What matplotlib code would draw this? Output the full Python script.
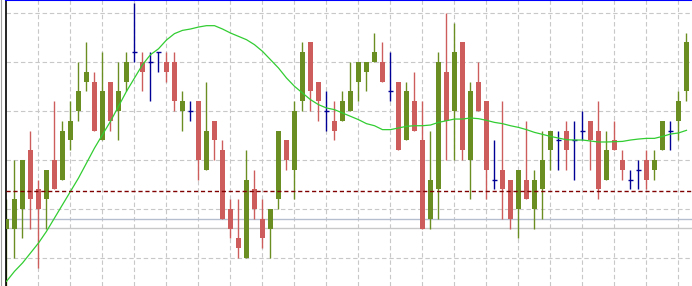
import numpy as np
import matplotlib
matplotlib.use("Agg")
import matplotlib.pyplot as plt

# candle values in chart price units (grid every 5 units)
opens = [3, 3, 5, 11, 7, 6, 10, 8, 12, 15, 18, 18, 12, 18, 15, 18, 21, 20, 20, 21,
         20, 20, 15, 15, 16, 9, 14, 11, 5, 2, 0, 7, 4, 3, 6, 12, 9, 16, 22, 18,
         15, 14, 14, 15, 18, 19, 20, 20, 17, 18, 12, 16, 12, 4, 7, 19, 15, 22, 10, 18,
         16, 8, 9, 8, 5, 8, 5, 7, 11, 12, 13, 12, 13, 14, 13, 8, 12, 10, 8, 9,
         10, 9, 11, 13, 14, 17]
closes = [4, 6, 10, 6, 5, 9, 7, 13, 14, 17, 19, 13, 17, 14, 17, 20, 21, 19, 20, 21,
          19, 16, 16, 15, 10, 13, 12, 4, 3, 1, 8, 5, 2, 5, 13, 10, 15, 21, 17, 16,
          15, 13, 16, 17, 20, 20, 21, 18, 17, 11, 17, 13, 3, 8, 20, 14, 21, 11, 17, 15,
          9, 8, 7, 4, 9, 6, 8, 10, 13, 12, 11, 12, 13, 12, 7, 11, 11, 9, 8, 9,
          8, 10, 14, 13, 16, 22]
highs = [6, 10, 10, 13, 8, 9, 16, 14, 16, 20, 22, 19, 21, 18, 20, 21, 26, 21, 21, 21,
         21, 21, 17, 16, 16, 18, 14, 12, 6, 6, 11, 9, 6, 5, 13, 12, 16, 22, 22, 18,
         17, 16, 17, 20, 20, 20, 23, 22, 21, 18, 18, 19, 16, 13, 21, 25, 24, 22, 18, 20,
         16, 12, 16, 8, 9, 14, 9, 13, 13, 13, 14, 14, 15, 14, 16, 13, 14, 11, 9, 10,
         11, 11, 14, 14, 17, 23]
lows = [-3, 0, 2, 3, -1, 3, 7, 8, 11, 14, 17, 13, 12, 13, 12, 17, 20, 17, 16, 19,
        18, 15, 13, 14, 8, 9, 10, 4, 2, 0, 0, 4, 1, 0, 5, 9, 6, 15, 15, 14,
        13, 12, 14, 15, 16, 17, 20, 18, 16, 11, 12, 13, 3, 3, 4, 10, 10, 10, 6, 15,
        6, 7, 4, 3, 2, 6, 3, 4, 9, 9, 9, 8, 12, 9, 6, 8, 11, 8, 7, 7,
        7, 8, 11, 11, 12, 16]
ma = [-2.38, -1.36, -0.51, 0.51, 1.53, 2.72, 4.08, 5.44, 6.80, 8.16,
      9.69, 11.22, 12.59, 13.95, 15.48, 17.01, 18.37, 19.73, 20.75, 21.35,
      22.25, 22.90, 23.23, 23.37, 23.57, 23.71, 23.71, 23.37, 22.96, 22.62,
      22.28, 21.77, 21.09, 20.24, 19.39, 18.37, 17.52, 16.84, 16.16, 15.65,
      15.31, 15.14, 14.80, 14.46, 14.12, 13.71, 13.50, 13.10, 13.10, 13.27,
      13.44, 13.50, 13.50, 13.57, 13.84, 14.01, 14.18, 14.18, 14.29, 14.22,
      14.05, 13.84, 13.71, 13.50, 13.33, 13.10, 12.82, 12.62, 12.41, 12.24,
      12.07, 12.04, 12.04, 11.94, 11.84, 11.84, 11.87, 11.90, 12.04, 12.14,
      12.21, 12.21, 12.41, 12.65, 12.76, 13.03]
grid_levels = [0, 5, 10, 15, 20, 25]
level_dashed = 6.8
level_blue_gray = 3.95
level_gray = 3.03

GREEN, RED, DOJI, MA_C = "#6b8e23", "#cd5c5c", "#000096", "#32cd32"

fig = plt.figure(figsize=(6.92, 2.86), dpi=100)
ax = fig.add_axes([6 / 692, 0, 686 / 692, 1])
n = len(opens)
x = np.arange(n)
o, c, h, l = map(np.array, (opens, closes, highs, lows))

ax.set_xlim(-0.0625, 85.69)
ax.set_ylim(-2.857, 26.33)

# grid
for g in grid_levels:
    ax.axhline(g, color="#c8c8c8", lw=0.8, ls=(0, (4, 2.5)), zorder=0)
for gx in range(4, n, 4):
    ax.axvline(gx, color="#c8c8c8", lw=0.8, ls=(0, (4, 2.5)), zorder=0)

ax.axhline(level_blue_gray, color="#b4bece", lw=1.0, zorder=1)
ax.axhline(level_gray, color="#c8c8c8", lw=1.0, zorder=1)

up = c > o
dn = c < o
dj = c == o
cols = np.where(up, GREEN, np.where(dn, RED, DOJI))
ax.vlines(x, l, h, colors=cols, lw=1.0, zorder=2)
ax.bar(x[up], (c - o)[up], bottom=o[up], width=0.625, color=GREEN, zorder=3, lw=0)
ax.bar(x[dn], (c - o)[dn], bottom=o[dn], width=0.625, color=RED, zorder=3, lw=0)
ax.hlines(o[dj], x[dj] - 0.3125, x[dj] + 0.3125, colors=DOJI, lw=1.0, zorder=3)

ax.plot(x, ma, color=MA_C, lw=0.9, zorder=4)
ax.axhline(level_dashed, color="#800000", lw=1.0, ls=(0, (3, 2)), zorder=4)

ax.set_xticks([]); ax.set_yticks([])
for s in ("right", "bottom"):
    ax.spines[s].set_visible(False)
ax.spines["top"].set_color("#0000ff"); ax.spines["top"].set_linewidth(1.5)
ax.spines["left"].set_color("black"); ax.spines["left"].set_linewidth(1.2)
fig.add_artist(plt.Line2D([1.5 / 692, 1.5 / 692], [0, 1], color="#a0a0a0", lw=0.8))

fig.savefig("out.png", dpi=100)
